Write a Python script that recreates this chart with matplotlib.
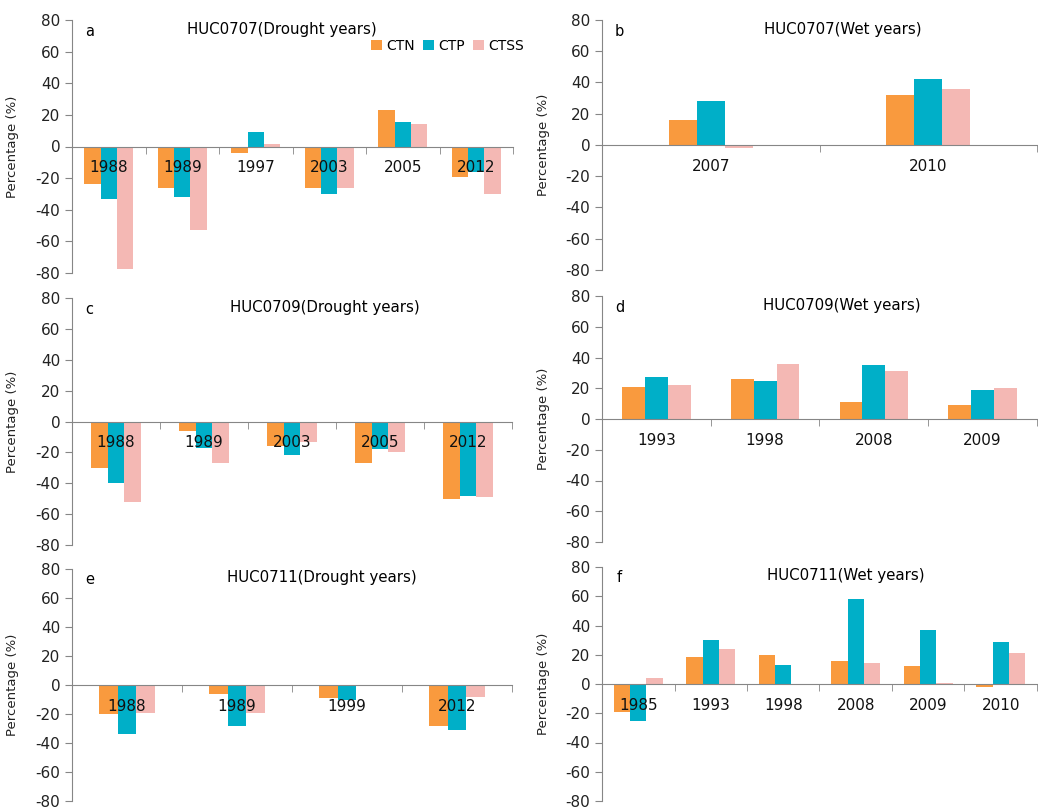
import numpy as np
import matplotlib
matplotlib.use("Agg")
import matplotlib.pyplot as plt

plt.rcParams["axes.unicode_minus"] = False

# percentage change of CTN / CTP / CTSS in drought and wet years
series = ["CTN", "CTP", "CTSS"]
colors = ["#F99A3E", "#00AFC8", "#F4B8B4"]

years_a = ["1988", "1989", "1997", "2003", "2005", "2012"]
ctn_a = [-23.5, -26, -4, -26, 23, -19]
ctp_a = [-33, -32, 9, -30, 15.5, -16]
ctss_a = [-77.5, -53, 1.5, -26, 14.5, -30]

years_b = ["2007", "2010"]
ctn_b = [16, 32]
ctp_b = [28, 42]
ctss_b = [-2, 36]

years_c = ["1988", "1989", "2003", "2005", "2012"]
ctn_c = [-30, -6, -16, -27, -50]
ctp_c = [-40, -17, -22, -18, -48]
ctss_c = [-52, -27, -13, -20, -49]

years_d = ["1993", "1998", "2008", "2009"]
ctn_d = [21, 26, 11, 9]
ctp_d = [27, 25, 35, 19]
ctss_d = [22, 36, 31, 20]

years_e = ["1988", "1989", "1999", "2012"]
ctn_e = [-20, -6.5, -9, -28]
ctp_e = [-34, -28, -10, -31]
ctss_e = [-19.5, -19.5, 0, -8.5]

years_f = ["1985", "1993", "1998", "2008", "2009", "2010"]
ctn_f = [-19, 18.5, 20, 16, 12.5, -2]
ctp_f = [-25, 30, 13, 58, 37, 29]
ctss_f = [4, 24, 0, 14.5, 1, 21.5]

W, H = 1038, 810
fig = plt.figure(figsize=(W / 100, H / 100), dpi=100)

# (letter, title, years, values, pixel box l,r,t,b, bar width, title x)
panels = [
    ("a", "HUC0707(Drought years)", years_a, [ctn_a, ctp_a, ctss_a], (72, 513, 20, 273), 0.22, 0.476),
    ("b", "HUC0707(Wet years)", years_b, [ctn_b, ctp_b, ctss_b], (602, 1037, 20, 270), 0.128, 0.554),
    ("c", "HUC0709(Drought years)", years_c, [ctn_c, ctp_c, ctss_c], (72, 512, 298, 545), 0.19, 0.575),
    ("d", "HUC0709(Wet years)", years_d, [ctn_d, ctp_d, ctss_d], (602, 1037, 296, 542), 0.21, 0.552),
    ("e", "HUC0711(Drought years)", years_e, [ctn_e, ctp_e, ctss_e], (72, 512, 569, 801), 0.17, 0.568),
    ("f", "HUC0711(Wet years)", years_f, [ctn_f, ctp_f, ctss_f], (602, 1037, 567, 801), 0.225, 0.561),
]

spine_col = "#868686"
for letter, title, years, vals, box, bw, tx in panels:
    l, r, t, b = box
    ax = fig.add_axes([l / W, 1 - b / H, (r - l) / W, (b - t) / H])
    x = np.arange(len(years))
    for j, v in enumerate(vals):
        ax.bar(x + (j - 1) * bw, v, width=bw, color=colors[j], label=series[j], zorder=1)
    ax.set_xlim(-0.5, len(years) - 0.5)
    ax.set_ylim(-80, 80)
    ax.set_yticks(np.arange(-80, 81, 20))
    ax.set_xticks(x)
    ax.set_xticklabels(years)
    ax.set_xticks(np.arange(-0.5, len(years), 1), minor=True)
    for s in ["top", "right"]:
        ax.spines[s].set_visible(False)
    ax.spines["bottom"].set_position(("data", 0))
    ax.spines["bottom"].set_color(spine_col)
    ax.spines["left"].set_color(spine_col)
    ax.tick_params(axis="x", which="major", length=0, pad=10, labelsize=11, colors="#111111")
    ax.tick_params(axis="x", which="minor", length=5, color=spine_col, direction="out")
    ax.tick_params(axis="y", length=5, color=spine_col, labelsize=11, labelcolor="#222222")
    ax.set_ylabel("Percentage (%)", fontsize=9.5, color="#222222")
    ax.yaxis.set_label_coords(-0.12, 0.5)
    ax.text(0.04, 0.955, letter, transform=ax.transAxes, fontsize=10.5, ha="center", va="center")
    ax.text(tx, 0.962, title, transform=ax.transAxes, fontsize=10.8, ha="center", va="center")
    ax.patch.set_visible(False)
    if letter == "a":
        ax.legend(loc="center right", bbox_to_anchor=(524 / W, 1 - 46 / H),
                  bbox_transform=fig.transFigure, ncol=3, frameon=False, fontsize=10,
                  handlelength=0.8, handleheight=0.8, handletextpad=0.3,
                  columnspacing=0.6, borderpad=0, borderaxespad=0)

fig.savefig("out.png", dpi=100)
